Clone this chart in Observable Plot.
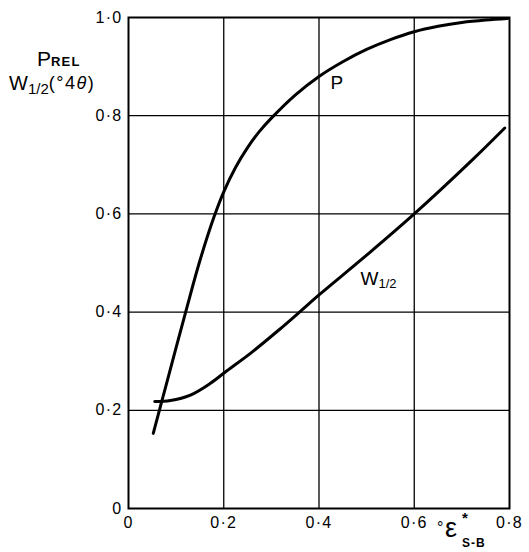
<!DOCTYPE html>
<html>
<head>
<meta charset="utf-8">
<script src="https://cdn.jsdelivr.net/npm/d3@7"></script>
<script src="https://cdn.jsdelivr.net/npm/@observablehq/plot@0.6"></script>
<style>
  html, body { margin: 0; padding: 0; background: #fff; }
  #wrap { position: relative; width: 529px; height: 552px; font-family: "Liberation Sans", Arial, Helvetica, sans-serif; color: #000; }
  .lbl { position: absolute; white-space: nowrap; line-height: 1; }
  #wrap svg g[aria-label="x-axis tick label"] text,
  #wrap svg g[aria-label="y-axis tick label"] text { letter-spacing: 1.3px; }
</style>
</head>
<body>
<div id="wrap">
  <div class="lbl" style="left:37px; top:48px; font-size:21px;">P<span style="font-size:13px; font-weight:bold; letter-spacing:1.2px;">REL</span></div>
  <div class="lbl" style="left:9px; top:73px; font-size:20px;">W<span style="font-size:15px; position:relative; top:4px;">1/2</span><span style="font-size:18px; letter-spacing:1.5px; position:relative; top:-1px;">(°4<i>θ</i>)</span></div>
  <div class="lbl" style="left:437px; top:520px; font-size:16px;">°</div>
  <div class="lbl" style="left:445px; top:515px; font-size:27px;">ε</div>
  <div class="lbl" style="left:462px; top:510px; font-size:15px; font-weight:bold;">*</div>
  <div class="lbl" style="left:462px; top:537px; font-size:12px; font-weight:bold; letter-spacing:1px;">S-B</div>
</div>
<script>
// Data
const pX = [0.052, 0.08, 0.12, 0.15, 0.18, 0.2, 0.225, 0.25, 0.275, 0.3, 0.35, 0.4, 0.45, 0.5, 0.55, 0.6, 0.65, 0.7, 0.75, 0.796];
const pY = [0.153, 0.255, 0.400, 0.505, 0.595, 0.645, 0.695, 0.735, 0.768, 0.795, 0.842, 0.880, 0.910, 0.935, 0.955, 0.971, 0.982, 0.990, 0.995, 0.998];
const wX = [0.055, 0.088, 0.13, 0.172, 0.206, 0.256, 0.315, 0.359, 0.4, 0.5, 0.6, 0.722, 0.79];
const wY = [0.218, 0.220, 0.231, 0.255, 0.280, 0.316, 0.363, 0.400, 0.435, 0.516, 0.600, 0.710, 0.775];
const xTicks = [0, 0.2, 0.4, 0.6, 0.8];
const yTicks = [0, 0.2, 0.4, 0.6, 0.8, 1.0];
const xGrid = [0.2, 0.4, 0.6];
const yGrid = [0.2, 0.4, 0.6, 0.8];
const curveLabels = [{x: 0.424, y: 0.867, text: "P"}];
const wLabel = [{x: 0.487, y: 0.467, main: "W", sub: "1/2"}];

const P = pX.map((x, i) => ({x, y: pY[i]}));
const W = wX.map((x, i) => ({x, y: wY[i]}));
const fmt = v => v === 0 ? "0" : d3.format(".1f")(v).replace(".", "·");

const chart = Plot.plot({
  width: 529,
  height: 552,
  marginLeft: 128,
  marginRight: 20,
  marginTop: 17,
  marginBottom: 44,
  style: {fontFamily: '"Liberation Sans", Arial, Helvetica, sans-serif', background: "transparent"},
  x: {domain: [0, 0.8], label: null},
  y: {domain: [0, 1], label: null},
  marks: [
    Plot.ruleX(xGrid, {stroke: "#000", strokeWidth: 1.3}),
    Plot.ruleY(yGrid, {stroke: "#000", strokeWidth: 1.3}),
    Plot.frame({stroke: "#000", strokeWidth: 2}),
    Plot.axisX(xTicks, {tickSize: 0, tickPadding: 8, fontSize: 16, tickFormat: fmt, label: null}),
    Plot.axisY(yTicks, {tickSize: 0, tickPadding: 6, fontSize: 16, tickFormat: fmt, label: null}),
    Plot.line(P, {x: "x", y: "y", stroke: "#000", strokeWidth: 3, curve: "catmull-rom"}),
    Plot.line(W, {x: "x", y: "y", stroke: "#000", strokeWidth: 3, curve: "catmull-rom"}),
    Plot.text(curveLabels, {x: "x", y: "y", text: "text", textAnchor: "start", fontSize: 19, fill: "#000"}),
    Plot.text(wLabel, {x: "x", y: "y", text: "main", textAnchor: "start", fontSize: 19, fill: "#000"}),
    Plot.text(wLabel, {x: "x", y: "y", text: "sub", textAnchor: "start", fontSize: 13, dx: 18, dy: 5, fill: "#000"})
  ]
});
chart.style.position = "absolute";
chart.style.left = "0";
chart.style.top = "0";
document.getElementById("wrap").prepend(chart);
</script>
</body>
</html>
